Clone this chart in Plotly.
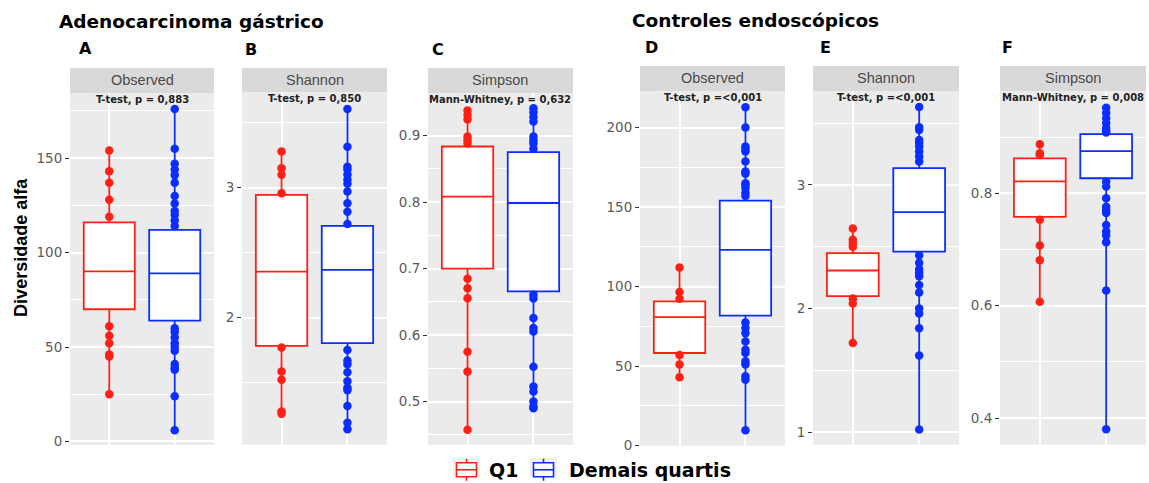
import plotly.graph_objects as go

W, H = 1149, 483
# vertical scale used when converting pixel rows to paper fractions
Y_SCALE = 0.986

# ---- data -----------------------------------------------------------------
panel_letters = ["A", "B", "C", "D", "E", "F"]
metrics = ["Observed", "Shannon", "Simpson", "Observed", "Shannon", "Simpson"]
tests = [
    "T-test, p = 0,883",
    "T-test, p = 0,850",
    "Mann-Whitney, p = 0,632",
    "T-test, p =<0,001",
    "T-test, p =<0,001",
    "Mann-Whitney, p = 0,008",
]
group_names = ["Q1", "Demais quartis"]

# box statistics (lower quartile, median, upper quartile) per panel
q1_lower = [70.0, 1.782, 0.700, 58.2, 2.100, 0.758]
q1_median = [90.0, 2.354, 0.808, 80.8, 2.307, 0.821]
q1_upper = [116.0, 2.944, 0.8835, 90.6, 2.448, 0.862]
rest_lower = [64.0, 1.803, 0.6655, 81.7, 2.460, 0.8267]
rest_median = [89.0, 2.367, 0.7985, 123.0, 2.779, 0.875]
rest_upper = [112.0, 2.705, 0.875, 154.0, 3.135, 0.9052]

# individual samples lying outside the boxes
pts_q1_A = [154, 143, 137, 128, 119, 61, 56, 52, 46, 45, 25]
pts_rest_A = [176, 155, 147, 144, 141, 137, 130, 126, 122, 120, 117, 114,
              60, 58, 55, 52, 50, 48, 41, 39, 38, 24, 6]
pts_q1_B = [3.277, 3.149, 3.098, 2.957, 1.77, 1.585, 1.521, 1.277, 1.26]
pts_rest_B = [3.605, 3.315, 3.16, 3.14, 3.10, 3.06, 3.03, 2.97, 2.88, 2.815, 2.72,
              1.75, 1.67, 1.64, 1.58, 1.51, 1.46, 1.44, 1.32, 1.19, 1.14]
pts_q1_C = [0.9376, 0.931, 0.924, 0.8985, 0.893, 0.888,
            0.6845, 0.6705, 0.6555, 0.575, 0.545, 0.4575]
pts_rest_C = [0.941, 0.935, 0.928, 0.921, 0.8985, 0.893, 0.888, 0.880,
              0.6605, 0.655, 0.6255, 0.6105, 0.6055, 0.5525, 0.5225, 0.515,
              0.50, 0.4925, 0.49]
pts_q1_D = [112, 96.5, 92.3, 57, 50.9, 42.9]
pts_rest_D = [212.7, 200, 188, 186.5, 185, 178.6, 172.3, 171, 165, 163.5, 162,
              159, 157, 77.4, 73.9, 70.7, 65.5, 60.3, 58.2, 53, 50.9, 43.5,
              41.4, 9.6]
pts_q1_E = [2.647, 2.555, 2.53, 2.50, 2.08, 2.04, 1.72]
pts_rest_E = [3.63, 3.466, 3.445, 3.364, 3.34, 3.31, 3.27, 3.23, 3.19,
              2.43, 2.37, 2.32, 2.29, 2.26, 2.19, 2.13, 2.00, 1.96, 1.84,
              1.62, 1.02]
pts_q1_F = [0.887, 0.871, 0.868, 0.753, 0.707, 0.681, 0.607]
pts_rest_F = [0.952, 0.943, 0.934, 0.925, 0.916, 0.911, 0.908,
              0.8206, 0.812, 0.791, 0.776, 0.7704, 0.765, 0.7437, 0.732,
              0.725, 0.713, 0.6271, 0.38]

pts_q1 = [pts_q1_A, pts_q1_B, pts_q1_C, pts_q1_D, pts_q1_E, pts_q1_F]
pts_rest = [pts_rest_A, pts_rest_B, pts_rest_C, pts_rest_D, pts_rest_E, pts_rest_F]

# axis ticks
major_ticks = [[0, 50, 100, 150], [2, 3], [0.5, 0.6, 0.7, 0.8, 0.9],
               [0, 50, 100, 150, 200], [1, 2, 3], [0.4, 0.6, 0.8]]
major_labels = [["0", "50", "100", "150"], ["2", "3"],
                ["0.5", "0.6", "0.7", "0.8", "0.9"],
                ["0", "50", "100", "150", "200"], ["1", "2", "3"],
                ["0.4", "0.6", "0.8"]]
minor_ticks = [[25, 75, 125, 175], [1.5, 2.5, 3.5],
               [0.45, 0.55, 0.65, 0.75, 0.85, 0.95],
               [25, 75, 125, 175], [1.5, 2.5, 3.5], [0.5, 0.7, 0.9]]
y_ranges = [[-1.75, 184.5], [1.021, 3.736], [0.435, 0.964],
            [-0.15, 223.0], [0.897, 3.76], [0.3525, 0.982]]

# ---- layout geometry (pixels) ---------------------------------------------
panel_left = [70, 242, 428, 640, 813, 1000]
panel_right = [214, 387, 573, 785, 959, 1146]
strip_top = [68, 68, 68, 66, 66, 66]
strip_bottom = [93, 92, 93, 91, 91, 91]
panel_bottom = [445, 445, 445, 446, 445, 445]
letter_y = [49, 50, 50, 48, 48, 48]
letter_x = [77, 243, 430, 643, 818, 1000]

RED = "#FF2015"
BLUE = "#0B2EFF"
PANEL_BG = "#EBEBEB"
STRIP_BG = "#D9D9D9"
TICK_COL = "#5A5A5A"
WIDE_FONT = "DejaVu Sans, Verdana, sans-serif"


def px_x(v):
    return v / W


def px_y(v):
    return 1 - v / (H * Y_SCALE)


fig = go.Figure()
layout = dict(
    width=W, height=H, autosize=False,
    margin=dict(l=0, r=0, t=0, b=0),
    paper_bgcolor="white", plot_bgcolor=PANEL_BG,
    showlegend=False,
)
shapes = []
annotations = []

for i in range(6):
    n = i + 1
    xa = "x" if n == 1 else f"x{n}"
    ya = "y" if n == 1 else f"y{n}"
    xkey = "xaxis" if n == 1 else f"xaxis{n}"
    ykey = "yaxis" if n == 1 else f"yaxis{n}"

    layout[xkey] = dict(
        domain=[px_x(panel_left[i]), px_x(panel_right[i])],
        range=[0.4, 2.6], anchor=ya, tickvals=[1, 2], showticklabels=False,
        ticks="", showgrid=True, gridcolor="white", gridwidth=1.6,
        zeroline=False, showline=False, fixedrange=True,
    )
    layout[ykey] = dict(
        domain=[max(0.0, px_y(panel_bottom[i])), px_y(strip_bottom[i])],
        range=y_ranges[i], anchor=xa,
        tickvals=major_ticks[i], ticktext=major_labels[i],
        ticks="outside", ticklen=4, tickwidth=1.1, tickcolor="#333333",
        tickfont=dict(family=WIDE_FONT, size=13.5, color=TICK_COL),
        showgrid=True, gridcolor="white", gridwidth=1.6,
        minor=dict(tickvals=minor_ticks[i], showgrid=True, gridcolor="white",
                   gridwidth=0.7, ticks=""),
        zeroline=False, showline=False, fixedrange=True,
    )

    groups = [
        (1, q1_lower[i], q1_median[i], q1_upper[i], pts_q1[i], RED, group_names[0]),
        (2, rest_lower[i], rest_median[i], rest_upper[i], pts_rest[i], BLUE, group_names[1]),
    ]
    for xpos, lo, med, hi, pts, col, name in groups:
        fig.add_trace(go.Box(
            x=[xpos], q1=[lo], median=[med], q3=[hi],
            lowerfence=[min(pts)], upperfence=[max(pts)],
            width=0.78, whiskerwidth=0, boxpoints=False,
            fillcolor="white", line=dict(color=col, width=1.8),
            name=name, xaxis=xa, yaxis=ya, hoverinfo="skip",
        ))
    for xpos, lo, med, hi, pts, col, name in groups:
        fig.add_trace(go.Scatter(
            x=[xpos] * len(pts), y=pts, mode="markers",
            marker=dict(color=col, size=8.5, line=dict(width=0)),
            name=name, xaxis=xa, yaxis=ya, hoverinfo="skip",
        ))

    # facet strip
    shapes.append(dict(
        type="rect", xref="paper", yref="paper",
        x0=px_x(panel_left[i]), x1=px_x(panel_right[i]),
        y0=px_y(strip_bottom[i]), y1=px_y(strip_top[i]),
        fillcolor=STRIP_BG, line=dict(width=0), layer="below",
    ))
    annotations.append(dict(
        text=metrics[i], xref="paper", yref="paper",
        x=px_x((panel_left[i] + panel_right[i]) / 2),
        y=px_y((strip_top[i] + strip_bottom[i]) / 2),
        xanchor="center", yanchor="middle", showarrow=False,
        font=dict(family="Liberation Sans, Arial, sans-serif", size=14.5,
                  color="#4A4A4A"),
    ))
    # test result
    annotations.append(dict(
        text=f"<b>{tests[i]}</b>", xref="paper", yref="paper",
        x=px_x((panel_left[i] + panel_right[i]) / 2),
        y=px_y(strip_bottom[i] + 7),
        xanchor="center", yanchor="middle", showarrow=False,
        font=dict(family=WIDE_FONT, size=10, color="#222222"),
    ))
    # panel letter
    annotations.append(dict(
        text=f"<b>{panel_letters[i]}</b>", xref="paper", yref="paper",
        x=px_x(letter_x[i]), y=px_y(letter_y[i]),
        xanchor="left", yanchor="middle", showarrow=False,
        font=dict(family=WIDE_FONT, size=16, color="black"),
    ))

# group titles
annotations.append(dict(
    text="<b>Adenocarcinoma gástrico</b>", xref="paper", yref="paper",
    x=px_x(57), y=px_y(22), xanchor="left", yanchor="middle", showarrow=False,
    font=dict(family=WIDE_FONT, size=18.5, color="black"),
))
annotations.append(dict(
    text="<b>Controles endoscópicos</b>", xref="paper", yref="paper",
    x=px_x(630), y=px_y(21), xanchor="left", yanchor="middle", showarrow=False,
    font=dict(family=WIDE_FONT, size=18.5, color="black"),
))
# shared y title
annotations.append(dict(
    text="<b>Diversidade alfa</b>", xref="paper", yref="paper",
    x=px_x(21), y=px_y(248), xanchor="center", yanchor="middle",
    showarrow=False, textangle=-90,
    font=dict(family="Liberation Sans, Arial, sans-serif", size=18,
              color="black"),
))

# legend keys
legend_keys = [(453, 487, RED, group_names[0]), (530, 567, BLUE, group_names[1])]
for kx, tx, col, label in legend_keys:
    shapes.append(dict(type="rect", xref="paper", yref="paper",
                       x0=px_x(kx), x1=px_x(kx + 27), y0=0, y1=px_y(458),
                       fillcolor="#F0F0F0", line=dict(width=0)))
    cx = kx + 13.5
    shapes.append(dict(type="line", xref="paper", yref="paper",
                       x0=px_x(cx), x1=px_x(cx), y0=px_y(459), y1=px_y(481),
                       line=dict(color=col, width=1.6)))
    shapes.append(dict(type="rect", xref="paper", yref="paper",
                       x0=px_x(kx + 3.5), x1=px_x(kx + 23.5),
                       y0=px_y(477), y1=px_y(463),
                       fillcolor="white", line=dict(color=col, width=1.6)))
    shapes.append(dict(type="line", xref="paper", yref="paper",
                       x0=px_x(kx + 3.5), x1=px_x(kx + 23.5),
                       y0=px_y(470), y1=px_y(470),
                       line=dict(color=col, width=1.6)))
    annotations.append(dict(
        text=f"<b>{label}</b>", xref="paper", yref="paper",
        x=px_x(tx), y=px_y(470), xanchor="left", yanchor="middle",
        showarrow=False,
        font=dict(family=WIDE_FONT, size=19, color="black"),
    ))

layout["shapes"] = shapes
layout["annotations"] = annotations
fig.update_layout(**layout)
fig.write_html("out.html")
